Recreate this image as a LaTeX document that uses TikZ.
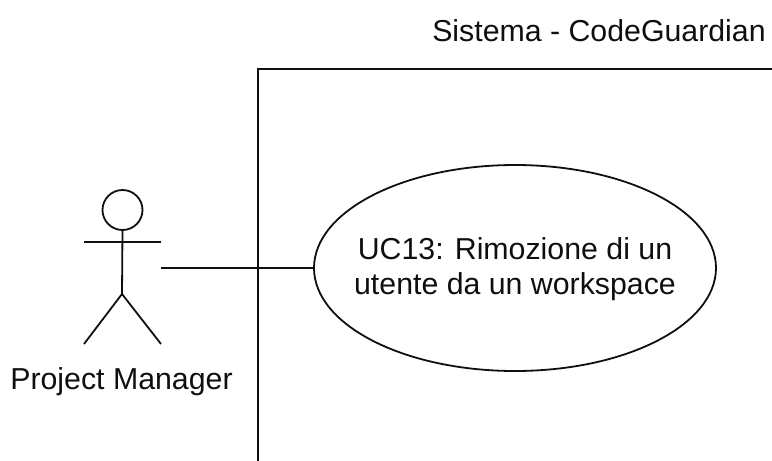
\documentclass[tikz,border=0pt]{standalone}
\usepackage{fontspec}
\setmainfont{Liberation Sans}
\usetikzlibrary{shapes.geometric}
\definecolor{ink}{RGB}{15,15,15}
\tikzset{
  px/.style={x=1pt,y=-1pt},
  line/.style={draw=ink,line width=1.8pt},
  usecase/.style={ellipse,draw=ink,line width=1.8pt,minimum width=402pt,minimum height=206pt,inner sep=0pt,align=center},
  lbl/.style={text=ink,font=\fontsize{30.3}{35}\selectfont,inner sep=0pt,align=center}
}
\begin{document}
\begin{tikzpicture}[px]
\useasboundingbox (0,0) rectangle (772,461);
\draw[line] (772,69) -- (258,69) -- (258,461);
\node[usecase] (uc) at (515,268) {};
\node[lbl] (uctext) at (515,269.5) {UC13: Rimozione di un\\utente da un workspace};
\node[lbl] (sys) at (599,31) {Sistema - CodeGuardian};
\node[lbl] (pm) at (121.5,382) {Project Manager};
\node[draw=ink,line width=1.8pt,circle,minimum size=40pt,inner sep=0pt] (head) at (122.5,210) {};
\coordinate (hip) at (122,294);
\coordinate (armL) at (84,242);
\coordinate (armR) at (161,242);
\coordinate (legL) at (84,344);
\coordinate (legR) at (161,344);
\coordinate (hand) at (161,268);
\draw[line] (head.south) -- (hip);
\draw[line] (armL) -- (armR);
\draw[line] (legL) -- (hip) -- (legR);
\draw[line] (hand) -- (uc.west);
\end{tikzpicture}
\end{document}
